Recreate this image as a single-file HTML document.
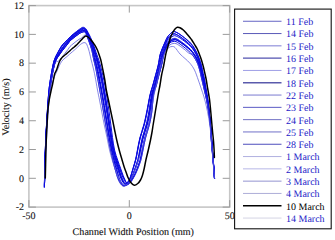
<!DOCTYPE html>
<html><head><meta charset="utf-8"><style>
html,body{margin:0;padding:0;background:#fff;width:335px;height:240px;overflow:hidden}
svg{display:block}
text{font-family:"Liberation Serif",serif;font-size:10px;text-rendering:geometricPrecision}
</style></head><body>
<svg width="335" height="240" viewBox="0 0 335 240">
<rect width="335" height="240" fill="#fff"/>
<rect x="28.9" y="5.6" width="200.80" height="201.50" fill="none" stroke="#c6c6c6" stroke-width="1.6"/>
<g stroke="#9a9a9a" stroke-width="1" fill="none">
<line x1="28.9" y1="207.10" x2="35.9" y2="207.10"/><line x1="222.7" y1="207.10" x2="229.7" y2="207.10"/><line x1="28.9" y1="178.31" x2="35.9" y2="178.31"/><line x1="222.7" y1="178.31" x2="229.7" y2="178.31"/><line x1="28.9" y1="149.53" x2="35.9" y2="149.53"/><line x1="222.7" y1="149.53" x2="229.7" y2="149.53"/><line x1="28.9" y1="120.74" x2="35.9" y2="120.74"/><line x1="222.7" y1="120.74" x2="229.7" y2="120.74"/><line x1="28.9" y1="91.96" x2="35.9" y2="91.96"/><line x1="222.7" y1="91.96" x2="229.7" y2="91.96"/><line x1="28.9" y1="63.17" x2="35.9" y2="63.17"/><line x1="222.7" y1="63.17" x2="229.7" y2="63.17"/><line x1="28.9" y1="34.39" x2="35.9" y2="34.39"/><line x1="222.7" y1="34.39" x2="229.7" y2="34.39"/><line x1="28.9" y1="5.60" x2="35.9" y2="5.60"/><line x1="222.7" y1="5.60" x2="229.7" y2="5.60"/><line x1="28.90" y1="207.1" x2="28.90" y2="200.1"/><line x1="28.90" y1="5.6" x2="28.90" y2="12.6"/><line x1="129.30" y1="207.1" x2="129.30" y2="200.1"/><line x1="129.30" y1="5.6" x2="129.30" y2="12.6"/><line x1="229.70" y1="207.1" x2="229.70" y2="200.1"/><line x1="229.70" y1="5.6" x2="229.70" y2="12.6"/>
</g>
<g fill="#111" stroke="#111" stroke-width="0.1"><text x="24.0" y="210.30" text-anchor="end">-2</text><text x="24.0" y="181.51" text-anchor="end">0</text><text x="24.0" y="152.73" text-anchor="end">2</text><text x="24.0" y="123.94" text-anchor="end">4</text><text x="24.0" y="95.16" text-anchor="end">6</text><text x="24.0" y="66.37" text-anchor="end">8</text><text x="24.0" y="37.59" text-anchor="end">10</text><text x="24.0" y="8.80" text-anchor="end">12</text><text x="28.90" y="218.6" text-anchor="middle">-50</text><text x="129.30" y="218.6" text-anchor="middle">0</text><text x="229.70" y="218.6" text-anchor="middle">50</text></g>
<text x="133.3" y="235" text-anchor="middle" fill="#111" stroke="#111" stroke-width="0.1" style="font-size:10.1px">Channel Width Position (mm)</text>
<text transform="translate(9,107) rotate(-90)" text-anchor="middle" fill="#111" stroke="#111" stroke-width="0.1">Velocity (m/s)</text>
<g stroke-linejoin="round" stroke-linecap="round">
<path d="M44.33,186.91 C44.38,184.84 44.51,179.32 44.63,174.50 C44.75,169.69 44.88,162.92 45.03,158.00 C45.18,153.08 45.32,149.67 45.52,145.00 C45.72,140.33 45.95,135.00 46.22,130.00 C46.49,125.00 46.80,120.00 47.12,115.00 C47.44,110.00 47.76,104.67 48.12,100.00 C48.49,95.33 48.87,90.83 49.32,87.00 C49.77,83.17 50.29,80.17 50.80,77.00 C51.32,73.83 51.87,70.67 52.40,68.00 C52.93,65.33 53.40,63.00 54.00,61.00 C54.60,59.00 55.23,57.67 56.00,56.00 C56.77,54.33 57.68,52.67 58.60,51.00 C59.52,49.33 60.52,47.42 61.50,46.00 C62.48,44.58 63.50,43.58 64.50,42.50 C65.50,41.42 66.50,40.50 67.50,39.50 C68.50,38.50 69.50,37.45 70.50,36.50 C71.50,35.55 72.50,34.63 73.50,33.80 C74.50,32.97 75.50,32.27 76.50,31.50 C77.50,30.73 78.45,29.90 79.50,29.20 C80.55,28.50 81.78,27.42 82.80,27.30 C83.82,27.18 84.72,27.63 85.60,28.50 C86.48,29.37 87.27,31.00 88.10,32.50 C88.93,34.00 89.77,35.67 90.60,37.50 C91.43,39.33 92.32,41.42 93.10,43.50 C93.88,45.58 94.65,48.08 95.30,50.00 C95.95,51.92 96.42,53.33 97.00,55.00 C97.58,56.67 98.17,58.00 98.80,60.00 C99.43,62.00 100.10,64.33 100.80,67.00 C101.50,69.67 102.27,72.67 103.00,76.00 C103.73,79.33 104.50,83.17 105.20,87.00 C105.90,90.83 106.54,94.83 107.20,99.00 C107.86,103.17 108.54,107.67 109.15,112.00 C109.76,116.33 110.31,120.75 110.87,125.00 C111.43,129.25 111.89,133.33 112.51,137.50 C113.13,141.67 113.71,146.24 114.56,150.00 C115.42,153.76 116.66,157.04 117.65,160.07 C118.65,163.10 119.63,165.62 120.53,168.16 C121.44,170.71 122.30,173.36 123.06,175.32 C123.82,177.29 124.52,178.77 125.09,179.96 C125.66,181.15 125.90,182.24 126.47,182.46 C127.04,182.68 127.84,182.25 128.53,181.29 C129.21,180.32 129.82,178.84 130.59,176.68 C131.36,174.51 132.27,171.22 133.15,168.30 C134.03,165.38 135.11,162.23 135.87,159.18 C136.62,156.13 136.98,153.53 137.70,150.00 C138.41,146.47 139.10,142.17 140.16,138.00 C141.23,133.83 142.96,129.33 144.10,125.00 C145.24,120.67 145.98,117.00 147.00,112.00 C148.02,107.00 149.19,99.50 150.20,95.00 C151.21,90.50 152.23,88.00 153.06,85.00 C153.90,82.00 154.32,80.33 155.20,77.00 C156.08,73.67 157.53,68.67 158.35,65.00 C159.17,61.33 159.44,57.75 160.10,55.00 C160.77,52.25 161.51,50.67 162.34,48.51 C163.17,46.34 164.24,43.92 165.10,42.00 C165.96,40.08 166.60,38.42 167.50,37.00 C168.40,35.58 169.50,34.42 170.50,33.50 C171.50,32.58 172.42,31.65 173.50,31.50 C174.58,31.35 175.92,32.12 177.00,32.60 C178.08,33.08 178.75,33.55 180.00,34.40 C181.25,35.25 183.04,36.57 184.50,37.70 C185.96,38.83 187.42,39.93 188.75,41.20 C190.08,42.47 191.29,43.67 192.50,45.30 C193.71,46.93 194.92,48.92 196.00,51.00 C197.08,53.08 198.08,55.38 199.00,57.80 C199.92,60.22 200.80,62.88 201.50,65.50 C202.20,68.12 202.67,71.08 203.20,73.50 C203.73,75.92 204.18,77.25 204.70,80.00 C205.22,82.75 205.75,86.67 206.30,90.00 C206.85,93.33 207.48,96.33 208.00,100.00 C208.52,103.67 208.97,107.83 209.40,112.00 C209.83,116.17 210.20,120.33 210.60,125.00 C211.00,129.67 211.42,135.00 211.80,140.00 C212.18,145.00 212.55,150.33 212.90,155.00 C213.25,159.67 213.62,164.08 213.90,168.00 C214.18,171.92 214.48,176.75 214.60,178.50" stroke="#0a0ae0" stroke-width="1.0" fill="none"/><path d="M44.30,187.42 C44.35,185.35 44.49,179.88 44.60,174.97 C44.72,170.07 44.85,163.00 45.00,158.00 C45.15,153.00 45.30,149.67 45.50,145.00 C45.70,140.33 45.93,135.00 46.20,130.00 C46.47,125.00 46.78,120.00 47.10,115.00 C47.42,110.00 47.73,104.67 48.10,100.00 C48.47,95.33 48.85,90.83 49.30,87.00 C49.75,83.17 50.28,80.17 50.80,77.00 C51.32,73.83 51.87,70.67 52.41,68.00 C52.95,65.33 53.42,63.00 54.03,61.00 C54.64,59.00 55.28,57.67 56.06,56.01 C56.85,54.35 57.78,52.68 58.72,51.03 C59.65,49.37 60.67,47.49 61.67,46.08 C62.67,44.68 63.70,43.68 64.71,42.61 C65.71,41.53 66.69,40.60 67.69,39.62 C68.70,38.63 69.72,37.60 70.73,36.67 C71.74,35.74 72.76,34.85 73.77,34.04 C74.78,33.22 75.80,32.52 76.81,31.78 C77.81,31.05 78.77,30.26 79.82,29.63 C80.86,28.99 82.07,28.02 83.06,27.98 C84.05,27.95 84.92,28.51 85.75,29.41 C86.57,30.32 87.25,31.92 88.01,33.40 C88.77,34.87 89.54,36.51 90.29,38.27 C91.05,40.02 91.84,41.95 92.55,43.90 C93.27,45.86 93.97,48.15 94.56,50.00 C95.15,51.85 95.56,53.33 96.08,55.00 C96.60,56.67 97.09,58.00 97.68,60.00 C98.26,62.00 98.92,64.33 99.59,67.00 C100.25,69.67 100.96,72.67 101.66,76.00 C102.37,79.33 103.12,83.17 103.81,87.00 C104.51,90.83 105.16,94.83 105.85,99.00 C106.53,103.17 107.25,107.67 107.91,112.00 C108.58,116.33 109.20,120.75 109.83,125.00 C110.46,129.25 111.02,133.33 111.70,137.50 C112.38,141.67 113.03,146.22 113.92,150.00 C114.81,153.78 116.03,157.13 117.03,160.19 C118.04,163.25 119.03,165.80 119.96,168.36 C120.90,170.93 121.81,173.62 122.62,175.59 C123.43,177.56 124.20,179.03 124.83,180.20 C125.45,181.36 125.76,182.40 126.38,182.59 C127.00,182.78 127.84,182.30 128.54,181.31 C129.24,180.33 129.81,178.84 130.56,176.67 C131.31,174.49 132.19,171.16 133.04,168.24 C133.88,165.31 134.92,162.16 135.65,159.12 C136.37,156.08 136.70,153.52 137.39,150.00 C138.09,146.48 138.76,142.17 139.81,138.00 C140.87,133.83 142.59,129.33 143.73,125.00 C144.87,120.67 145.61,117.00 146.65,112.00 C147.69,107.00 148.93,99.50 149.96,95.00 C150.99,90.50 151.99,88.00 152.83,85.00 C153.67,82.00 154.11,80.33 155.01,77.00 C155.90,73.67 157.37,68.67 158.20,65.00 C159.03,61.33 159.32,57.75 160.00,55.00 C160.68,52.25 161.45,50.67 162.30,48.50 C163.15,46.33 164.23,43.92 165.10,42.00 C165.97,40.08 166.60,38.42 167.50,37.00 C168.40,35.58 169.50,34.41 170.50,33.50 C171.50,32.59 172.42,31.67 173.51,31.54 C174.60,31.41 175.93,32.21 177.02,32.73 C178.11,33.24 178.79,33.75 180.04,34.64 C181.30,35.52 183.08,36.87 184.53,38.04 C185.98,39.21 187.42,40.34 188.75,41.64 C190.08,42.95 191.30,44.20 192.50,45.86 C193.70,47.52 194.91,49.55 195.96,51.61 C197.02,53.67 197.97,55.90 198.84,58.23 C199.72,60.56 200.54,63.10 201.21,65.60 C201.87,68.11 202.31,70.91 202.83,73.27 C203.34,75.62 203.75,76.95 204.28,79.74 C204.81,82.53 205.42,86.62 206.01,90.00 C206.59,93.38 207.23,96.33 207.77,100.00 C208.32,103.67 208.80,107.83 209.26,112.00 C209.72,116.17 210.14,120.33 210.54,125.00 C210.95,129.67 211.32,135.00 211.70,140.00 C212.08,145.00 212.48,150.33 212.84,155.00 C213.20,159.67 213.57,164.10 213.86,168.00 C214.14,171.90 214.44,176.66 214.56,178.39" stroke="#0a0ae0" stroke-width="1.0" fill="none"/><path d="M44.36,186.42 C44.41,184.37 44.54,178.85 44.65,174.11 C44.77,169.37 44.90,162.85 45.05,158.00 C45.20,153.15 45.35,149.67 45.54,145.00 C45.74,140.33 45.97,135.00 46.24,130.00 C46.51,125.00 46.83,120.00 47.15,115.00 C47.47,110.00 47.80,104.67 48.18,100.00 C48.55,95.33 48.95,90.83 49.41,87.00 C49.86,83.17 50.40,80.17 50.92,77.00 C51.45,73.83 52.00,70.67 52.54,68.00 C53.09,65.33 53.57,62.99 54.19,61.00 C54.81,59.01 55.48,57.71 56.28,56.06 C57.07,54.40 58.03,52.73 58.98,51.10 C59.93,49.46 60.96,47.61 61.95,46.22 C62.95,44.83 63.98,43.82 64.97,42.74 C65.96,41.66 66.90,40.72 67.89,39.74 C68.89,38.75 69.92,37.75 70.94,36.83 C71.95,35.91 72.96,35.03 73.98,34.22 C74.99,33.41 76.02,32.70 77.03,31.98 C78.03,31.27 78.99,30.50 80.03,29.91 C81.06,29.32 82.25,28.41 83.22,28.41 C84.19,28.42 85.05,29.04 85.84,29.96 C86.63,30.88 87.24,32.46 87.96,33.91 C88.67,35.37 89.41,36.99 90.12,38.69 C90.84,40.39 91.58,42.24 92.26,44.12 C92.93,46.01 93.61,48.19 94.17,50.00 C94.73,51.81 95.12,53.33 95.61,55.00 C96.10,56.67 96.55,58.00 97.11,60.00 C97.67,62.00 98.34,64.33 98.99,67.00 C99.64,69.67 100.32,72.67 101.02,76.00 C101.71,79.33 102.46,83.17 103.16,87.00 C103.86,90.83 104.53,94.83 105.23,99.00 C105.92,103.17 106.66,107.67 107.34,112.00 C108.02,116.33 108.67,120.75 109.33,125.00 C109.98,129.25 110.57,133.33 111.28,137.50 C111.98,141.67 112.67,146.20 113.56,150.00 C114.46,153.80 115.64,157.19 116.64,160.27 C117.64,163.36 118.62,165.92 119.55,168.51 C120.49,171.10 121.41,173.83 122.23,175.82 C123.06,177.82 123.86,179.31 124.52,180.47 C125.18,181.64 125.53,182.67 126.21,182.83 C126.89,182.99 127.84,182.46 128.60,181.45 C129.35,180.44 129.96,178.92 130.74,176.74 C131.52,174.56 132.41,171.29 133.28,168.37 C134.15,165.44 135.21,162.26 135.95,159.20 C136.69,156.14 137.03,153.53 137.73,150.00 C138.44,146.47 139.11,142.17 140.18,138.00 C141.24,133.83 142.97,129.33 144.12,125.00 C145.26,120.67 146.02,117.00 147.05,112.00 C148.07,107.00 149.24,99.50 150.27,95.00 C151.29,90.50 152.33,88.00 153.19,85.00 C154.04,82.00 154.48,80.33 155.38,77.00 C156.29,73.67 157.76,68.67 158.61,65.00 C159.46,61.33 159.79,57.74 160.49,55.00 C161.18,52.26 161.96,50.65 162.79,48.57 C163.62,46.49 164.62,44.28 165.47,42.51 C166.33,40.75 167.01,39.25 167.93,38.00 C168.85,36.75 169.96,35.75 170.97,35.02 C171.99,34.28 172.96,33.61 174.02,33.60 C175.08,33.59 176.26,34.37 177.34,34.96 C178.42,35.54 179.25,36.20 180.49,37.12 C181.73,38.04 183.39,39.34 184.76,40.49 C186.14,41.64 187.46,42.72 188.75,44.00 C190.04,45.28 191.32,46.57 192.50,48.17 C193.68,49.78 194.86,51.76 195.85,53.63 C196.83,55.51 197.64,57.38 198.42,59.41 C199.20,61.44 199.92,63.59 200.54,65.83 C201.16,68.07 201.61,70.58 202.12,72.83 C202.63,75.07 203.03,76.45 203.61,79.32 C204.19,82.18 204.96,86.55 205.62,90.00 C206.27,93.45 206.94,96.33 207.52,100.00 C208.11,103.67 208.64,107.83 209.13,112.00 C209.63,116.17 210.08,120.33 210.50,125.00 C210.92,129.67 211.26,135.00 211.64,140.00 C212.03,145.00 212.44,150.33 212.81,155.00 C213.18,159.67 213.55,164.11 213.84,168.00 C214.13,171.89 214.43,176.64 214.55,178.36" stroke="#0a0ae0" stroke-width="1.0" fill="none"/><path d="M44.41,185.43 C44.46,183.36 44.60,177.60 44.72,173.03 C44.84,168.46 44.97,162.67 45.12,158.00 C45.27,153.33 45.43,149.67 45.63,145.00 C45.83,140.33 46.06,135.00 46.33,130.00 C46.61,125.00 46.93,120.00 47.28,115.00 C47.63,110.00 48.00,104.67 48.42,100.00 C48.83,95.33 49.27,90.83 49.75,87.00 C50.24,83.17 50.80,80.17 51.34,77.00 C51.89,73.83 52.45,70.67 53.03,68.00 C53.60,65.33 54.12,62.96 54.79,61.00 C55.46,59.04 56.21,57.83 57.07,56.21 C57.92,54.60 58.95,52.92 59.92,51.33 C60.89,49.74 61.92,48.04 62.89,46.67 C63.86,45.31 64.83,44.25 65.75,43.14 C66.67,42.04 67.46,41.04 68.40,40.04 C69.33,39.04 70.36,38.07 71.35,37.14 C72.33,36.22 73.31,35.33 74.30,34.50 C75.28,33.67 76.27,32.93 77.25,32.19 C78.22,31.45 79.14,30.68 80.14,30.07 C81.14,29.45 82.30,28.51 83.25,28.48 C84.19,28.44 85.03,28.99 85.82,29.86 C86.61,30.72 87.25,32.25 87.98,33.67 C88.72,35.09 89.49,36.68 90.24,38.40 C91.00,40.11 91.80,42.00 92.51,43.93 C93.23,45.87 93.95,48.16 94.55,50.00 C95.15,51.84 95.58,53.33 96.10,55.00 C96.63,56.67 97.13,58.00 97.71,60.00 C98.30,62.00 98.96,64.33 99.61,67.00 C100.27,69.67 100.96,72.67 101.64,76.00 C102.32,79.33 103.05,83.17 103.71,87.00 C104.38,90.83 105.00,94.83 105.65,99.00 C106.30,103.17 106.97,107.67 107.60,112.00 C108.23,116.33 108.81,120.75 109.41,125.00 C110.01,129.25 110.54,133.33 111.20,137.50 C111.85,141.67 112.50,146.19 113.34,150.00 C114.17,153.81 115.28,157.23 116.20,160.36 C117.11,163.49 117.99,166.09 118.83,168.76 C119.68,171.43 120.51,174.29 121.29,176.39 C122.07,178.49 122.82,180.13 123.53,181.36 C124.23,182.60 124.62,183.68 125.52,183.80 C126.41,183.92 127.86,183.20 128.88,182.10 C129.91,180.99 130.71,179.33 131.68,177.17 C132.64,175.01 133.67,172.05 134.68,169.13 C135.69,166.21 136.90,162.87 137.74,159.68 C138.58,156.49 138.97,153.61 139.71,150.00 C140.45,146.39 141.12,142.17 142.17,138.00 C143.23,133.83 144.94,129.33 146.03,125.00 C147.13,120.67 147.86,117.00 148.75,112.00 C149.64,107.00 150.46,99.50 151.38,95.00 C152.29,90.50 153.43,88.00 154.26,85.00 C155.08,82.00 155.45,80.33 156.31,77.00 C157.18,73.67 158.62,68.67 159.44,65.00 C160.27,61.33 160.61,57.72 161.27,55.00 C161.93,52.28 162.64,50.66 163.40,48.66 C164.16,46.65 165.01,44.65 165.81,42.97 C166.60,41.30 167.30,39.83 168.19,38.60 C169.08,37.37 170.16,36.34 171.15,35.57 C172.13,34.80 173.08,34.06 174.11,33.96 C175.14,33.87 176.29,34.52 177.35,35.01 C178.40,35.49 179.22,36.04 180.44,36.87 C181.67,37.70 183.33,38.91 184.72,39.99 C186.10,41.07 187.45,42.10 188.75,43.33 C190.05,44.57 191.31,45.79 192.50,47.38 C193.69,48.97 194.88,50.93 195.89,52.86 C196.91,54.78 197.77,56.78 198.59,58.93 C199.41,61.08 200.18,63.39 200.81,65.74 C201.45,68.08 201.89,70.71 202.40,73.00 C202.90,75.29 203.29,76.63 203.85,79.47 C204.40,82.30 205.11,86.58 205.73,90.00 C206.35,93.42 207.01,96.33 207.57,100.00 C208.14,103.67 208.65,107.83 209.14,112.00 C209.63,116.17 210.08,120.33 210.50,125.00 C210.91,129.67 211.24,135.00 211.62,140.00 C212.00,145.00 212.42,150.33 212.78,155.00 C213.15,159.67 213.53,164.12 213.82,168.00 C214.11,171.88 214.40,176.58 214.52,178.29" stroke="#0a0ae0" stroke-width="1.0" fill="none"/><path d="M44.44,184.90 C44.49,182.84 44.63,177.03 44.75,172.54 C44.87,168.06 45.00,162.59 45.15,158.00 C45.30,153.41 45.46,149.67 45.66,145.00 C45.86,140.33 46.08,135.00 46.36,130.00 C46.64,125.00 46.96,120.00 47.32,115.00 C47.67,110.00 48.07,104.67 48.49,100.00 C48.91,95.33 49.36,90.83 49.86,87.00 C50.36,83.17 50.92,80.17 51.48,77.00 C52.03,73.83 52.60,70.67 53.19,68.00 C53.78,65.33 54.31,62.95 55.01,61.00 C55.70,59.05 56.49,57.87 57.38,56.28 C58.27,54.68 59.34,53.00 60.33,51.43 C61.33,49.87 62.37,48.24 63.35,46.90 C64.33,45.56 65.30,44.48 66.20,43.37 C67.10,42.27 67.83,41.24 68.74,40.25 C69.66,39.25 70.71,38.32 71.70,37.41 C72.68,36.50 73.67,35.63 74.65,34.81 C75.63,34.00 76.63,33.23 77.60,32.51 C78.57,31.79 79.49,31.07 80.47,30.50 C81.45,29.94 82.57,29.09 83.48,29.11 C84.40,29.13 85.21,29.74 85.95,30.61 C86.68,31.49 87.23,32.96 87.92,34.34 C88.60,35.73 89.32,37.28 90.03,38.92 C90.74,40.56 91.49,42.34 92.18,44.19 C92.86,46.03 93.56,48.20 94.13,50.00 C94.71,51.80 95.12,53.33 95.62,55.00 C96.13,56.67 96.60,58.00 97.18,60.00 C97.75,62.00 98.42,64.33 99.08,67.00 C99.73,69.67 100.41,72.67 101.09,76.00 C101.78,79.33 102.51,83.17 103.19,87.00 C103.87,90.83 104.50,94.83 105.17,99.00 C105.83,103.17 106.52,107.67 107.17,112.00 C107.81,116.33 108.41,120.75 109.03,125.00 C109.65,129.25 110.21,133.33 110.88,137.50 C111.55,141.67 112.22,146.18 113.06,150.00 C113.89,153.82 114.98,157.28 115.88,160.42 C116.78,163.57 117.63,166.19 118.47,168.89 C119.31,171.59 120.12,174.49 120.91,176.62 C121.70,178.75 122.46,180.43 123.19,181.67 C123.92,182.92 124.33,184.00 125.30,184.10 C126.26,184.21 127.86,183.43 128.97,182.29 C130.08,181.16 130.93,179.45 131.95,177.30 C132.98,175.14 134.04,172.27 135.10,169.36 C136.16,166.45 137.42,163.06 138.30,159.83 C139.18,156.60 139.60,153.64 140.36,150.00 C141.13,146.36 141.81,142.17 142.88,138.00 C143.95,133.83 145.67,129.33 146.77,125.00 C147.87,120.67 148.62,117.00 149.48,112.00 C150.33,107.00 151.01,99.50 151.90,95.00 C152.79,90.50 153.99,88.00 154.82,85.00 C155.65,82.00 156.01,80.33 156.87,77.00 C157.74,73.67 159.18,68.67 160.02,65.00 C160.87,61.33 161.26,57.71 161.92,55.00 C162.58,52.29 163.29,50.65 164.01,48.74 C164.72,46.83 165.46,45.07 166.23,43.55 C166.99,42.02 167.73,40.71 168.62,39.61 C169.51,38.50 170.59,37.60 171.57,36.94 C172.56,36.28 173.52,35.69 174.53,35.65 C175.53,35.60 176.55,36.19 177.59,36.68 C178.63,37.17 179.54,37.76 180.75,38.57 C181.96,39.37 183.53,40.50 184.86,41.52 C186.19,42.54 187.48,43.50 188.75,44.68 C190.02,45.85 191.32,47.05 192.50,48.57 C193.68,50.09 194.85,52.00 195.84,53.80 C196.82,55.61 197.63,57.42 198.41,59.43 C199.20,61.43 199.94,63.59 200.56,65.82 C201.18,68.06 201.64,70.59 202.16,72.85 C202.67,75.10 203.06,76.48 203.64,79.34 C204.22,82.20 204.98,86.56 205.62,90.00 C206.27,93.44 206.93,96.33 207.51,100.00 C208.09,103.67 208.61,107.83 209.11,112.00 C209.60,116.17 210.07,120.33 210.49,125.00 C210.90,129.67 211.22,135.00 211.60,140.00 C211.98,145.00 212.41,150.33 212.78,155.00 C213.14,159.67 213.52,164.12 213.81,168.00 C214.10,171.88 214.39,176.56 214.51,178.27" stroke="#0a0ae0" stroke-width="1.0" fill="none"/><path d="M44.48,184.16 C44.53,182.12 44.67,176.26 44.79,171.90 C44.90,167.54 45.04,162.48 45.19,158.00 C45.34,153.52 45.49,149.67 45.69,145.00 C45.89,140.33 46.12,135.00 46.40,130.00 C46.67,125.00 47.00,120.00 47.36,115.00 C47.73,110.00 48.13,104.67 48.57,100.00 C49.00,95.33 49.47,90.83 49.97,87.00 C50.48,83.17 51.05,80.17 51.61,77.00 C52.17,73.83 52.75,70.67 53.35,68.00 C53.95,65.33 54.49,62.94 55.21,61.00 C55.94,59.06 56.76,57.91 57.68,56.34 C58.60,54.76 59.71,53.07 60.73,51.53 C61.75,50.00 62.82,48.44 63.80,47.12 C64.79,45.80 65.76,44.71 66.64,43.60 C67.52,42.49 68.19,41.44 69.10,40.46 C70.00,39.47 71.08,38.58 72.07,37.69 C73.06,36.81 74.05,35.95 75.03,35.15 C76.02,34.35 77.03,33.57 78.00,32.88 C78.97,32.19 79.88,31.52 80.85,31.01 C81.81,30.51 82.89,29.78 83.77,29.87 C84.64,29.95 85.42,30.66 86.10,31.55 C86.78,32.44 87.22,33.86 87.83,35.20 C88.44,36.54 89.11,38.04 89.76,39.60 C90.41,41.15 91.09,42.78 91.72,44.52 C92.36,46.25 93.02,48.25 93.57,50.00 C94.11,51.75 94.49,53.33 94.97,55.00 C95.45,56.67 95.88,58.00 96.45,60.00 C97.01,62.00 97.70,64.33 98.36,67.00 C99.01,69.67 99.68,72.67 100.38,76.00 C101.07,79.33 101.83,83.17 102.53,87.00 C103.23,90.83 103.91,94.83 104.60,99.00 C105.30,103.17 106.03,107.67 106.71,112.00 C107.39,116.33 108.04,120.75 108.69,125.00 C109.35,129.25 109.95,133.33 110.65,137.50 C111.35,141.67 112.06,146.18 112.91,150.00 C113.77,153.82 114.86,157.29 115.78,160.44 C116.70,163.59 117.57,166.21 118.43,168.90 C119.29,171.59 120.14,174.49 120.94,176.61 C121.74,178.72 122.52,180.37 123.26,181.61 C123.99,182.84 124.41,183.91 125.36,184.02 C126.31,184.12 127.86,183.36 128.94,182.23 C130.03,181.11 130.86,179.41 131.87,177.26 C132.88,175.10 133.94,172.21 135.00,169.30 C136.05,166.39 137.32,163.02 138.20,159.80 C139.09,156.59 139.52,153.63 140.31,150.00 C141.09,146.37 141.81,142.17 142.90,138.00 C143.99,133.83 145.75,129.33 146.88,125.00 C148.00,120.67 148.79,117.00 149.66,112.00 C150.53,107.00 151.19,99.50 152.10,95.00 C153.01,90.50 154.25,88.00 155.11,85.00 C155.96,82.00 156.33,80.33 157.23,77.00 C158.12,73.67 159.59,68.67 160.46,65.00 C161.34,61.33 161.80,57.69 162.49,55.00 C163.19,52.31 163.92,50.63 164.62,48.83 C165.33,47.03 165.95,45.53 166.71,44.21 C167.47,42.89 168.27,41.79 169.18,40.91 C170.10,40.02 171.19,39.33 172.19,38.90 C173.19,38.47 174.22,38.20 175.19,38.32 C176.16,38.44 176.98,39.02 178.01,39.60 C179.03,40.19 180.15,40.97 181.34,41.83 C182.53,42.68 183.93,43.74 185.16,44.73 C186.40,45.72 187.53,46.62 188.75,47.75 C189.97,48.89 191.34,50.13 192.50,51.57 C193.66,53.01 194.79,54.84 195.68,56.40 C196.58,57.96 197.20,59.30 197.88,60.91 C198.55,62.53 199.16,64.21 199.73,66.11 C200.30,68.01 200.78,70.19 201.29,72.31 C201.81,74.43 202.20,75.89 202.84,78.84 C203.49,81.79 204.44,86.47 205.17,90.00 C205.90,93.53 206.60,96.33 207.23,100.00 C207.86,103.67 208.44,107.83 208.97,112.00 C209.51,116.17 210.02,120.33 210.44,125.00 C210.87,129.67 211.16,135.00 211.55,140.00 C211.93,145.00 212.38,150.33 212.75,155.00 C213.13,159.67 213.51,164.12 213.80,168.00 C214.10,171.88 214.39,176.56 214.51,178.27" stroke="#0a0ae0" stroke-width="1.0" fill="none"/><path d="M44.52,183.53 C44.57,181.53 44.70,175.76 44.81,171.50 C44.92,167.25 45.05,162.42 45.20,158.00 C45.35,153.58 45.50,149.67 45.70,145.00 C45.89,140.33 46.11,135.00 46.39,130.00 C46.66,125.00 46.99,120.00 47.34,115.00 C47.70,110.00 48.09,104.67 48.51,100.00 C48.93,95.33 49.38,90.83 49.87,87.00 C50.36,83.17 50.92,80.17 51.47,77.00 C52.02,73.83 52.58,70.67 53.17,68.00 C53.76,65.33 54.28,62.95 54.98,61.00 C55.68,59.05 56.47,57.87 57.37,56.27 C58.27,54.68 59.36,53.00 60.38,51.44 C61.40,49.89 62.48,48.29 63.48,46.96 C64.49,45.64 65.50,44.58 66.42,43.49 C67.34,42.40 68.06,41.37 69.00,40.40 C69.94,39.43 71.04,38.55 72.06,37.68 C73.08,36.82 74.10,36.00 75.12,35.22 C76.14,34.45 77.18,33.69 78.18,33.04 C79.17,32.40 80.12,31.77 81.10,31.35 C82.07,30.93 83.16,30.33 84.02,30.53 C84.88,30.73 85.65,31.60 86.26,32.56 C86.88,33.52 87.20,34.94 87.72,36.28 C88.24,37.62 88.82,39.12 89.37,40.58 C89.91,42.05 90.46,43.49 90.99,45.06 C91.52,46.63 92.10,48.34 92.55,50.00 C93.00,51.66 93.31,53.33 93.70,55.00 C94.09,56.67 94.39,58.00 94.89,60.00 C95.39,62.00 96.09,64.33 96.70,67.00 C97.32,69.67 97.92,72.67 98.60,76.00 C99.27,79.33 100.02,83.17 100.75,87.00 C101.47,90.83 102.20,94.83 102.94,99.00 C103.69,103.17 104.47,107.67 105.22,112.00 C105.96,116.33 106.68,120.75 107.42,125.00 C108.16,129.25 108.86,133.33 109.64,137.50 C110.42,141.67 111.21,146.15 112.10,150.00 C112.99,153.85 114.05,157.41 114.97,160.61 C115.90,163.80 116.77,166.44 117.66,169.17 C118.55,171.90 119.44,174.85 120.30,176.99 C121.16,179.13 122.00,180.79 122.81,182.01 C123.62,183.23 124.12,184.25 125.15,184.31 C126.18,184.37 127.86,183.53 129.00,182.37 C130.14,181.20 130.98,179.49 132.01,177.32 C133.04,175.16 134.09,172.30 135.16,169.39 C136.22,166.48 137.48,163.08 138.37,159.85 C139.26,156.62 139.71,153.64 140.49,150.00 C141.28,146.36 142.00,142.17 143.11,138.00 C144.21,133.83 145.98,129.33 147.11,125.00 C148.25,120.67 149.06,117.00 149.92,112.00 C150.79,107.00 151.41,99.50 152.31,95.00 C153.22,90.50 154.50,88.00 155.37,85.00 C156.24,82.00 156.61,80.33 157.51,77.00 C158.41,73.67 159.89,68.67 160.78,65.00 C161.68,61.33 162.17,57.69 162.87,55.00 C163.58,52.31 164.31,50.62 165.00,48.89 C165.68,47.15 166.23,45.80 166.97,44.58 C167.72,43.35 168.55,42.36 169.46,41.56 C170.38,40.76 171.47,40.15 172.47,39.79 C173.46,39.43 174.51,39.26 175.45,39.40 C176.40,39.54 177.15,40.06 178.16,40.64 C179.17,41.21 180.34,42.01 181.52,42.83 C182.70,43.65 184.04,44.63 185.24,45.56 C186.45,46.50 187.54,47.33 188.75,48.42 C189.96,49.50 191.35,50.69 192.50,52.08 C193.65,53.47 194.77,55.24 195.66,56.74 C196.55,58.23 197.16,59.49 197.83,61.05 C198.50,62.62 199.11,64.25 199.68,66.13 C200.25,68.00 200.74,70.17 201.26,72.29 C201.79,74.41 202.18,75.88 202.83,78.83 C203.48,81.78 204.43,86.47 205.16,90.00 C205.89,93.53 206.59,96.33 207.22,100.00 C207.85,103.67 208.42,107.83 208.96,112.00 C209.50,116.17 210.01,120.33 210.44,125.00 C210.86,129.67 211.14,135.00 211.53,140.00 C211.91,145.00 212.36,150.33 212.73,155.00 C213.11,159.67 213.49,164.13 213.79,168.00 C214.08,171.87 214.37,176.51 214.48,178.21" stroke="#0a0ae0" stroke-width="1.0" fill="none"/><path d="M44.56,182.76 C44.61,180.74 44.74,174.76 44.86,170.63 C44.98,166.51 45.11,162.27 45.26,158.00 C45.42,153.73 45.57,149.67 45.77,145.00 C45.97,140.33 46.19,135.00 46.47,130.00 C46.75,125.00 47.08,120.00 47.46,115.00 C47.84,110.00 48.27,104.67 48.73,100.00 C49.18,95.33 49.67,90.83 50.20,87.00 C50.72,83.17 51.30,80.17 51.87,77.00 C52.44,73.83 53.02,70.67 53.64,68.00 C54.25,65.33 54.82,62.93 55.57,61.00 C56.33,59.07 57.20,57.99 58.16,56.43 C59.12,54.88 60.28,53.18 61.32,51.68 C62.37,50.18 63.45,48.72 64.43,47.42 C65.41,46.13 66.36,45.02 67.21,43.90 C68.06,42.78 68.64,41.69 69.51,40.71 C70.39,39.72 71.48,38.87 72.47,38.00 C73.46,37.13 74.44,36.29 75.43,35.50 C76.41,34.70 77.42,33.90 78.39,33.23 C79.35,32.57 80.26,31.93 81.20,31.49 C82.14,31.04 83.19,30.40 84.03,30.55 C84.87,30.70 85.62,31.49 86.24,32.39 C86.86,33.30 87.21,34.67 87.75,35.97 C88.30,37.28 88.92,38.75 89.51,40.23 C90.10,41.71 90.70,43.22 91.28,44.85 C91.86,46.48 92.48,48.31 92.97,50.00 C93.46,51.69 93.80,53.33 94.22,55.00 C94.65,56.67 94.99,58.00 95.51,60.00 C96.02,62.00 96.70,64.33 97.31,67.00 C97.92,69.67 98.52,72.67 99.17,76.00 C99.82,79.33 100.54,83.17 101.21,87.00 C101.89,90.83 102.56,94.83 103.24,99.00 C103.93,103.17 104.64,107.67 105.32,112.00 C106.01,116.33 106.66,120.75 107.34,125.00 C108.02,129.25 108.66,133.33 109.39,137.50 C110.12,141.67 110.89,146.13 111.71,150.00 C112.54,153.87 113.50,157.48 114.33,160.73 C115.17,163.98 115.93,166.67 116.73,169.50 C117.53,172.32 118.33,175.43 119.16,177.68 C119.98,179.94 120.81,181.74 121.68,183.02 C122.56,184.30 123.13,185.36 124.40,185.36 C125.67,185.36 127.87,184.31 129.30,183.04 C130.72,181.77 131.75,179.90 132.95,177.75 C134.15,175.59 135.32,173.03 136.50,170.12 C137.67,167.21 139.06,163.64 140.02,160.29 C140.97,156.94 141.43,153.72 142.23,150.00 C143.03,146.28 143.72,142.17 144.79,138.00 C145.86,133.83 147.58,129.33 148.66,125.00 C149.73,120.67 150.49,117.00 151.24,112.00 C151.98,107.00 152.32,99.50 153.13,95.00 C153.94,90.50 155.29,88.00 156.12,85.00 C156.96,82.00 157.27,80.33 158.14,77.00 C159.00,73.67 160.45,68.67 161.32,65.00 C162.19,61.33 162.69,57.68 163.36,55.00 C164.04,52.32 164.73,50.63 165.37,48.94 C166.00,47.25 166.47,46.02 167.18,44.86 C167.89,43.69 168.73,42.72 169.63,41.95 C170.54,41.17 171.61,40.57 172.60,40.21 C173.59,39.86 174.62,39.69 175.56,39.82 C176.49,39.95 177.21,40.44 178.21,41.00 C179.21,41.56 180.40,42.36 181.58,43.18 C182.76,43.99 184.08,44.97 185.27,45.90 C186.47,46.83 187.55,47.67 188.75,48.77 C189.95,49.86 191.35,51.08 192.50,52.48 C193.65,53.88 194.77,55.68 195.64,57.16 C196.51,58.64 197.08,59.84 197.72,61.35 C198.36,62.85 198.93,64.40 199.48,66.20 C200.03,67.99 200.50,70.06 201.01,72.13 C201.52,74.21 201.88,75.67 202.54,78.65 C203.20,81.63 204.21,86.44 204.97,90.00 C205.72,93.56 206.42,96.33 207.07,100.00 C207.72,103.67 208.32,107.83 208.87,112.00 C209.43,116.17 209.97,120.33 210.40,125.00 C210.84,129.67 211.09,135.00 211.47,140.00 C211.85,145.00 212.32,150.33 212.70,155.00 C213.08,159.67 213.47,164.14 213.77,168.00 C214.06,171.86 214.35,176.47 214.46,178.16" stroke="#0a0ae0" stroke-width="1.0" fill="none"/><path d="M44.54,183.08 C44.59,181.08 44.72,175.25 44.84,171.06 C44.95,166.88 45.08,162.34 45.23,158.00 C45.38,153.66 45.53,149.67 45.73,145.00 C45.93,140.33 46.15,135.00 46.43,130.00 C46.71,125.00 47.04,120.00 47.41,115.00 C47.78,110.00 48.20,104.67 48.65,100.00 C49.10,95.33 49.58,90.83 50.10,87.00 C50.62,83.17 51.20,80.17 51.78,77.00 C52.36,73.83 52.95,70.67 53.58,68.00 C54.21,65.33 54.78,62.93 55.56,61.00 C56.33,59.07 57.23,57.99 58.23,56.45 C59.22,54.90 60.44,53.21 61.53,51.73 C62.63,50.26 63.77,48.87 64.79,47.60 C65.82,46.33 66.82,45.24 67.68,44.14 C68.54,43.03 69.07,41.93 69.95,40.97 C70.84,40.01 71.98,39.22 72.99,38.39 C74.00,37.56 75.00,36.77 76.00,36.00 C77.00,35.23 78.03,34.42 79.00,33.80 C79.97,33.18 80.88,32.63 81.80,32.30 C82.72,31.97 83.72,31.53 84.50,31.80 C85.28,32.07 85.97,33.01 86.49,33.93 C87.01,34.86 87.18,36.13 87.61,37.36 C88.05,38.59 88.58,39.97 89.08,41.30 C89.58,42.64 90.08,43.91 90.60,45.36 C91.11,46.80 91.69,48.39 92.14,50.00 C92.59,51.61 92.92,53.33 93.32,55.00 C93.72,56.67 94.03,58.00 94.54,60.00 C95.06,62.00 95.78,64.33 96.41,67.00 C97.04,69.67 97.64,72.67 98.32,76.00 C98.99,79.33 99.74,83.17 100.46,87.00 C101.17,90.83 101.88,94.83 102.61,99.00 C103.33,103.17 104.09,107.67 104.81,112.00 C105.53,116.33 106.21,120.75 106.92,125.00 C107.64,129.25 108.32,133.33 109.07,137.50 C109.82,141.67 110.61,146.12 111.44,150.00 C112.27,153.88 113.20,157.52 114.02,160.80 C114.84,164.07 115.57,166.77 116.36,169.63 C117.15,172.48 117.93,175.63 118.76,177.92 C119.58,180.21 120.41,182.07 121.30,183.37 C122.20,184.67 122.80,185.73 124.15,185.72 C125.50,185.70 127.88,184.58 129.40,183.28 C130.92,181.97 132.02,180.05 133.29,177.90 C134.55,175.76 135.77,173.30 137.00,170.39 C138.24,167.49 139.68,163.86 140.67,160.47 C141.66,157.07 142.15,153.74 142.95,150.00 C143.76,146.26 144.44,142.17 145.50,138.00 C146.56,133.83 148.25,129.33 149.30,125.00 C150.35,120.67 151.10,117.00 151.80,112.00 C152.50,107.00 152.72,99.50 153.50,95.00 C154.28,90.50 155.65,88.00 156.47,85.00 C157.29,82.00 157.57,80.33 158.42,77.00 C159.26,73.67 160.69,68.67 161.55,65.00 C162.40,61.33 162.89,57.67 163.55,55.00 C164.20,52.33 164.87,50.64 165.48,48.95 C166.09,47.27 166.53,46.08 167.22,44.92 C167.91,43.75 168.75,42.77 169.65,41.98 C170.54,41.19 171.60,40.55 172.59,40.17 C173.57,39.79 174.60,39.59 175.53,39.71 C176.47,39.82 177.19,40.30 178.19,40.86 C179.20,41.42 180.38,42.23 181.56,43.07 C182.74,43.91 184.07,44.92 185.27,45.89 C186.47,46.86 187.55,47.74 188.75,48.89 C189.95,50.04 191.36,51.32 192.50,52.78 C193.64,54.23 194.76,56.12 195.61,57.62 C196.46,59.11 196.98,60.31 197.58,61.76 C198.17,63.20 198.66,64.63 199.16,66.31 C199.65,67.99 200.08,69.84 200.55,71.84 C201.02,73.84 201.30,75.27 201.97,78.29 C202.64,81.32 203.75,86.38 204.54,90.00 C205.34,93.62 206.05,96.33 206.73,100.00 C207.42,103.67 208.06,107.83 208.66,112.00 C209.25,116.17 209.87,120.33 210.31,125.00 C210.76,129.67 210.93,135.00 211.31,140.00 C211.70,145.00 212.21,150.33 212.60,155.00 C213.00,159.67 213.40,164.17 213.70,168.00 C214.00,171.83 214.28,176.33 214.40,178.00" stroke="#0a0ae0" stroke-width="1.0" fill="none"/><path d="M44.58,182.31 C44.63,180.32 44.76,174.41 44.88,170.36 C44.99,166.31 45.13,162.23 45.27,158.00 C45.42,153.77 45.57,149.67 45.77,145.00 C45.97,140.33 46.19,135.00 46.47,130.00 C46.75,125.00 47.08,120.00 47.45,115.00 C47.83,110.00 48.26,104.67 48.72,100.00 C49.17,95.33 49.66,90.83 50.18,87.00 C50.70,83.17 51.28,80.17 51.86,77.00 C52.44,73.83 53.02,70.67 53.64,68.00 C54.27,65.33 54.84,62.92 55.61,61.00 C56.38,59.08 57.28,58.00 58.26,56.45 C59.25,54.91 60.46,53.21 61.54,51.74 C62.62,50.26 63.75,48.86 64.77,47.59 C65.78,46.32 66.78,45.22 67.64,44.12 C68.50,43.01 69.03,41.91 69.92,40.95 C70.81,40.00 71.96,39.20 72.97,38.38 C73.98,37.55 74.99,36.76 76.00,36.00 C77.01,35.24 78.03,34.42 79.00,33.80 C79.97,33.18 80.88,32.63 81.80,32.30 C82.72,31.97 83.72,31.52 84.50,31.80 C85.28,32.08 85.98,33.05 86.50,34.00 C87.02,34.95 87.18,36.25 87.60,37.50 C88.02,38.75 88.53,40.17 89.00,41.50 C89.47,42.83 89.93,44.08 90.40,45.50 C90.87,46.92 91.40,48.42 91.80,50.00 C92.20,51.58 92.47,53.33 92.80,55.00 C93.13,56.67 93.35,58.00 93.80,60.00 C94.25,62.00 94.93,64.33 95.50,67.00 C96.07,69.67 96.58,72.67 97.20,76.00 C97.82,79.33 98.52,83.17 99.20,87.00 C99.88,90.83 100.58,94.83 101.30,99.00 C102.02,103.17 102.77,107.67 103.50,112.00 C104.23,116.33 104.95,120.75 105.70,125.00 C106.45,129.25 107.20,133.33 108.00,137.50 C108.80,141.67 109.67,146.08 110.50,150.00 C111.33,153.92 112.19,157.67 113.00,161.00 C113.81,164.33 114.54,167.08 115.37,169.97 C116.20,172.87 117.07,176.09 117.98,178.39 C118.90,180.69 119.85,182.52 120.85,183.78 C121.85,185.03 122.57,186.00 124.00,185.92 C125.43,185.84 127.88,184.64 129.41,183.30 C130.94,181.95 131.97,180.03 133.19,177.86 C134.41,175.68 135.55,173.16 136.72,170.24 C137.88,167.32 139.24,163.70 140.17,160.33 C141.10,156.96 141.52,153.72 142.29,150.00 C143.06,146.28 143.73,142.17 144.78,138.00 C145.83,133.83 147.54,129.33 148.61,125.00 C149.68,120.67 150.44,117.00 151.19,112.00 C151.94,107.00 152.29,99.50 153.11,95.00 C153.94,90.50 155.29,88.00 156.14,85.00 C156.98,82.00 157.31,80.33 158.20,77.00 C159.08,73.67 160.55,68.67 161.45,65.00 C162.35,61.33 162.89,57.67 163.59,55.00 C164.29,52.33 165.02,50.61 165.67,48.98 C166.31,47.35 166.73,46.27 167.45,45.24 C168.18,44.21 169.08,43.42 170.00,42.80 C170.92,42.18 172.00,41.70 173.00,41.50 C174.00,41.30 175.08,41.35 176.00,41.60 C176.92,41.85 177.50,42.35 178.50,43.00 C179.50,43.65 180.83,44.62 182.00,45.50 C183.17,46.38 184.38,47.35 185.50,48.30 C186.62,49.25 187.58,50.08 188.75,51.20 C189.92,52.32 191.38,53.62 192.50,55.00 C193.62,56.38 194.72,58.20 195.50,59.50 C196.28,60.80 196.68,61.63 197.20,62.80 C197.72,63.97 198.13,65.05 198.60,66.50 C199.07,67.95 199.52,69.58 200.00,71.50 C200.48,73.42 200.78,74.92 201.50,78.00 C202.22,81.08 203.45,86.33 204.30,90.00 C205.15,93.67 205.88,96.33 206.60,100.00 C207.32,103.67 207.98,107.83 208.60,112.00 C209.22,116.17 209.85,120.33 210.30,125.00 C210.75,129.67 210.92,135.00 211.30,140.00 C211.68,145.00 212.20,150.33 212.60,155.00 C213.00,159.67 213.40,164.17 213.70,168.00 C214.00,171.83 214.28,176.34 214.40,178.00" stroke="#0a0ae0" stroke-width="1.0" fill="none"/><path d="M45.00,180.00 C45.10,176.67 45.35,166.67 45.60,160.00 C45.85,153.33 46.17,146.67 46.50,140.00 C46.83,133.33 47.22,126.00 47.60,120.00 C47.98,114.00 48.37,109.00 48.80,104.00 C49.23,99.00 49.40,94.17 50.20,90.00 C51.00,85.83 52.70,81.67 53.60,79.00 C54.50,76.33 55.03,75.33 55.60,74.00 C56.17,72.67 56.57,71.97 57.00,71.00 C57.43,70.03 57.83,69.07 58.20,68.20 C58.57,67.33 58.85,66.57 59.20,65.80 C59.55,65.03 59.90,64.32 60.30,63.60 C60.70,62.88 61.12,62.15 61.60,61.50 C62.08,60.85 62.63,60.27 63.20,59.70 C63.77,59.13 64.37,58.63 65.00,58.10 C65.63,57.57 66.25,57.13 67.00,56.50 C67.75,55.87 68.57,55.12 69.50,54.30 C70.43,53.48 71.58,52.48 72.60,51.60 C73.62,50.72 74.77,49.75 75.60,49.00 C76.43,48.25 76.93,47.73 77.60,47.10 C78.27,46.47 78.90,45.80 79.60,45.20 C80.30,44.60 81.07,43.93 81.80,43.50 C82.53,43.07 83.30,42.65 84.00,42.60 C84.70,42.55 85.50,42.80 86.00,43.20 C86.50,43.60 86.58,44.03 87.00,45.00 C87.42,45.97 88.03,47.50 88.50,49.00 C88.97,50.50 89.35,52.17 89.80,54.00 C90.25,55.83 90.67,57.83 91.20,60.00 C91.73,62.17 92.37,64.33 93.00,67.00 C93.63,69.67 94.25,72.17 95.00,76.00 C95.75,79.83 96.75,86.00 97.50,90.00 C98.25,94.00 98.78,96.33 99.50,100.00 C100.22,103.67 101.00,107.83 101.80,112.00 C102.60,116.17 103.43,120.75 104.30,125.00 C105.17,129.25 106.13,133.33 107.00,137.50 C107.87,141.67 108.58,146.08 109.50,150.00 C110.42,153.92 111.50,157.67 112.50,161.00 C113.50,164.33 114.45,167.17 115.50,170.00 C116.55,172.83 117.72,175.75 118.80,178.00 C119.88,180.25 120.97,182.33 122.00,183.50 C123.03,184.67 123.92,185.08 125.00,185.00 C126.08,184.92 127.33,184.33 128.50,183.00 C129.67,181.67 130.92,179.17 132.00,177.00 C133.08,174.83 133.92,172.83 135.00,170.00 C136.08,167.17 137.38,163.33 138.50,160.00 C139.62,156.67 140.62,153.67 141.70,150.00 C142.78,146.33 143.87,142.17 145.00,138.00 C146.13,133.83 147.47,129.33 148.50,125.00 C149.53,120.67 150.28,117.00 151.20,112.00 C152.12,107.00 152.95,100.33 154.00,95.00 C155.05,89.67 156.42,84.83 157.50,80.00 C158.58,75.17 159.50,70.00 160.50,66.00 C161.50,62.00 162.58,58.58 163.50,56.00 C164.42,53.42 165.08,51.92 166.00,50.50 C166.92,49.08 168.00,48.17 169.00,47.50 C170.00,46.83 171.00,46.50 172.00,46.50 C173.00,46.50 173.67,46.25 175.00,47.50 C176.33,48.75 178.33,52.17 180.00,54.00 C181.67,55.83 183.33,56.95 185.00,58.50 C186.67,60.05 188.42,61.38 190.00,63.30 C191.58,65.22 193.12,67.22 194.50,70.00 C195.88,72.78 197.22,77.00 198.30,80.00 C199.38,83.00 200.05,85.17 201.00,88.00 C201.95,90.83 203.08,93.83 204.00,97.00 C204.92,100.17 205.75,103.67 206.50,107.00 C207.25,110.33 207.88,113.50 208.50,117.00 C209.12,120.50 209.75,124.17 210.20,128.00 C210.65,131.83 210.82,135.50 211.20,140.00 C211.58,144.50 212.10,150.33 212.50,155.00 C212.90,159.67 213.28,164.17 213.60,168.00 C213.92,171.83 214.27,176.33 214.40,178.00" stroke="#6868e0" stroke-width="0.8" fill="none"/><path d="M44.60,182.00 C44.65,180.00 44.78,174.00 44.90,170.00 C45.02,166.00 45.15,162.17 45.30,158.00 C45.45,153.83 45.60,149.67 45.80,145.00 C46.00,140.33 46.22,135.00 46.50,130.00 C46.78,125.00 47.12,120.00 47.50,115.00 C47.88,110.00 48.33,104.67 48.80,100.00 C49.27,95.33 49.77,90.83 50.30,87.00 C50.83,83.17 51.42,80.17 52.00,77.00 C52.58,73.83 53.17,70.48 53.80,68.00 C54.43,65.52 55.02,63.27 55.80,62.13 C56.58,61.00 57.50,62.00 58.50,61.19 C59.50,60.39 60.72,58.63 61.80,57.30 C62.88,55.97 64.00,54.47 65.00,53.20 C66.00,51.93 66.97,50.82 67.80,49.70 C68.63,48.58 69.13,47.47 70.00,46.50 C70.87,45.53 72.00,44.73 73.00,43.90 C74.00,43.07 75.00,42.27 76.00,41.50 C77.00,40.73 78.03,39.92 79.00,39.30 C79.97,38.68 80.88,38.47 81.80,37.80 C82.72,37.13 83.72,35.76 84.50,35.26 C85.28,34.76 85.98,34.42 86.50,34.81 C87.02,35.19 87.18,36.44 87.60,37.56 C88.02,38.68 88.53,40.18 89.00,41.50 C89.47,42.82 89.93,44.08 90.40,45.50 C90.87,46.92 91.40,48.42 91.80,50.00 C92.20,51.58 92.47,53.33 92.80,55.00 C93.13,56.67 93.35,58.00 93.80,60.00 C94.25,62.00 94.93,64.33 95.50,67.00 C96.07,69.67 96.58,72.67 97.20,76.00 C97.82,79.33 98.52,83.17 99.20,87.00 C99.88,90.83 100.58,94.83 101.30,99.00 C102.02,103.17 102.77,107.67 103.50,112.00 C104.23,116.33 104.95,120.75 105.70,125.00 C106.45,129.25 107.20,133.33 108.00,137.50 C108.80,141.67 109.67,146.08 110.50,150.00 C111.33,153.92 112.20,157.67 113.00,161.00 C113.80,164.33 114.50,167.08 115.30,170.00 C116.10,172.92 116.92,176.17 117.80,178.50 C118.68,180.83 119.60,182.72 120.60,184.00 C121.60,185.28 122.32,186.28 123.80,186.20 C125.28,186.12 127.88,184.87 129.50,183.50 C131.12,182.13 132.22,180.17 133.50,178.00 C134.78,175.83 135.98,173.42 137.20,170.50 C138.42,167.58 139.83,163.92 140.80,160.50 C141.77,157.08 142.22,153.75 143.00,150.00 C143.78,146.25 144.45,142.17 145.50,138.00 C146.55,133.83 148.25,129.33 149.30,125.00 C150.35,120.67 151.10,117.00 151.80,112.00 C152.50,107.00 152.72,99.50 153.50,95.00 C154.28,90.50 155.67,88.00 156.50,85.00 C157.33,82.00 157.63,80.33 158.50,77.00 C159.37,73.67 160.82,68.65 161.70,65.00 C162.58,61.35 163.12,57.59 163.80,55.12 C164.48,52.65 165.18,51.50 165.80,50.19 C166.42,48.88 166.80,48.15 167.50,47.25 C168.20,46.35 169.08,45.43 170.00,44.80 C170.92,44.17 172.00,43.70 173.00,43.50 C174.00,43.30 175.08,43.35 176.00,43.60 C176.92,43.85 177.50,44.35 178.50,45.00 C179.50,45.65 180.83,46.62 182.00,47.50 C183.17,48.38 184.38,49.37 185.50,50.30 C186.62,51.23 187.58,52.30 188.75,53.09 C189.92,53.88 191.38,53.98 192.50,55.05 C193.62,56.12 194.72,58.21 195.50,59.50 C196.28,60.79 196.68,61.63 197.20,62.80 C197.72,63.97 198.13,65.05 198.60,66.50 C199.07,67.95 199.52,69.58 200.00,71.50 C200.48,73.42 200.78,74.92 201.50,78.00 C202.22,81.08 203.45,86.33 204.30,90.00 C205.15,93.67 205.88,96.33 206.60,100.00 C207.32,103.67 207.98,107.83 208.60,112.00 C209.22,116.17 209.85,120.33 210.30,125.00 C210.75,129.67 210.92,135.00 211.30,140.00 C211.68,145.00 212.20,150.33 212.60,155.00 C213.00,159.67 213.40,164.17 213.70,168.00 C214.00,171.83 214.28,176.33 214.40,178.00" stroke="#4040d8" stroke-width="0.7" fill="none"/><path d="M45.30,178.00 C45.35,175.83 45.50,169.67 45.60,165.00 C45.70,160.33 45.75,155.00 45.90,150.00 C46.05,145.00 46.27,140.00 46.50,135.00 C46.73,130.00 47.07,124.17 47.30,120.00 C47.53,115.83 47.58,113.33 47.90,110.00 C48.22,106.67 48.72,103.00 49.20,100.00 C49.68,97.00 50.23,94.67 50.80,92.00 C51.37,89.33 52.10,86.33 52.60,84.00 C53.10,81.67 53.47,79.67 53.80,78.00 C54.13,76.33 54.30,75.00 54.60,74.00 C54.90,73.00 55.28,72.67 55.60,72.00 C55.92,71.33 56.20,70.75 56.50,70.00 C56.80,69.25 57.12,68.33 57.40,67.50 C57.68,66.67 57.93,65.78 58.20,65.00 C58.47,64.22 58.70,63.55 59.00,62.80 C59.30,62.05 59.62,61.22 60.00,60.50 C60.38,59.78 60.83,59.12 61.30,58.50 C61.77,57.88 62.25,57.35 62.80,56.80 C63.35,56.25 63.97,55.73 64.60,55.20 C65.23,54.67 65.87,54.22 66.60,53.60 C67.33,52.98 68.10,52.30 69.00,51.50 C69.90,50.70 71.17,49.50 72.00,48.80 C72.83,48.10 73.33,47.87 74.00,47.30 C74.67,46.73 75.33,46.05 76.00,45.40 C76.67,44.75 77.33,44.08 78.00,43.40 C78.67,42.72 79.25,42.08 80.00,41.30 C80.75,40.52 81.58,39.58 82.50,38.70 C83.42,37.82 84.58,36.28 85.50,36.00 C86.42,35.72 87.12,36.37 88.00,37.00 C88.88,37.63 89.97,38.88 90.80,39.80 C91.63,40.72 92.30,41.58 93.00,42.50 C93.70,43.42 94.27,44.05 95.00,45.30 C95.73,46.55 96.70,48.38 97.40,50.00 C98.10,51.62 98.63,53.33 99.20,55.00 C99.77,56.67 100.18,57.50 100.80,60.00 C101.42,62.50 102.23,66.67 102.90,70.00 C103.57,73.33 104.23,76.67 104.80,80.00 C105.37,83.33 105.70,86.67 106.30,90.00 C106.90,93.33 107.67,96.50 108.40,100.00 C109.13,103.50 109.97,107.50 110.70,111.00 C111.43,114.50 112.15,117.83 112.80,121.00 C113.45,124.17 113.95,126.83 114.60,130.00 C115.25,133.17 115.93,136.67 116.70,140.00 C117.47,143.33 118.35,146.83 119.20,150.00 C120.05,153.17 120.98,156.22 121.80,159.00 C122.62,161.78 123.37,164.45 124.10,166.70 C124.83,168.95 125.55,170.70 126.20,172.50 C126.85,174.30 127.23,175.83 128.00,177.50 C128.77,179.17 129.77,181.22 130.80,182.50 C131.83,183.78 133.03,185.03 134.20,185.20 C135.37,185.37 136.75,184.37 137.80,183.50 C138.85,182.63 139.73,181.33 140.50,180.00 C141.27,178.67 141.78,177.42 142.40,175.50 C143.02,173.58 143.62,171.08 144.20,168.50 C144.78,165.92 145.22,163.08 145.90,160.00 C146.58,156.92 147.53,153.33 148.30,150.00 C149.07,146.67 149.85,143.17 150.50,140.00 C151.15,136.83 151.77,133.50 152.20,131.00 C152.63,128.50 152.53,128.50 153.10,125.00 C153.67,121.50 154.77,115.00 155.60,110.00 C156.43,105.00 157.37,99.17 158.10,95.00 C158.83,90.83 159.42,88.33 160.00,85.00 C160.58,81.67 160.97,78.33 161.60,75.00 C162.23,71.67 163.13,68.33 163.80,65.00 C164.47,61.67 165.02,57.75 165.60,55.00 C166.18,52.25 166.72,50.58 167.30,48.50 C167.88,46.42 168.60,44.25 169.10,42.50 C169.60,40.75 169.82,39.42 170.30,38.00 C170.78,36.58 171.43,35.20 172.00,34.00 C172.57,32.80 173.12,31.72 173.70,30.80 C174.28,29.88 174.87,29.08 175.50,28.50 C176.13,27.92 176.75,27.42 177.50,27.30 C178.25,27.18 179.03,27.35 180.00,27.80 C180.97,28.25 182.22,29.05 183.30,30.00 C184.38,30.95 185.47,32.33 186.50,33.50 C187.53,34.67 188.62,35.92 189.50,37.00 C190.38,38.08 190.95,38.73 191.80,40.00 C192.65,41.27 193.73,43.18 194.60,44.60 C195.47,46.02 196.27,47.05 197.00,48.50 C197.73,49.95 198.28,51.47 199.00,53.30 C199.72,55.13 200.58,57.30 201.30,59.50 C202.02,61.70 202.68,64.08 203.30,66.50 C203.92,68.92 204.50,71.75 205.00,74.00 C205.50,76.25 205.87,77.67 206.30,80.00 C206.73,82.33 207.18,85.50 207.60,88.00 C208.02,90.50 208.47,93.00 208.80,95.00 C209.13,97.00 209.30,97.50 209.60,100.00 C209.90,102.50 210.28,106.67 210.60,110.00 C210.92,113.33 211.18,116.50 211.50,120.00 C211.82,123.50 212.17,127.50 212.50,131.00 C212.83,134.50 213.23,137.83 213.50,141.00 C213.77,144.17 213.95,147.25 214.10,150.00 C214.25,152.75 214.35,156.25 214.40,157.50" stroke="#000" stroke-width="1.5" fill="none"/>
</g>
<rect x="234.6" y="9.1" width="96.6" height="219.7" fill="#fff" stroke="#111" stroke-width="1.1"/>
<line x1="243" y1="21.25" x2="281.5" y2="21.25" stroke="#6464c4" stroke-width="1.0"/><text x="286" y="25.15" fill="#2424c8">11 Feb</text><line x1="243" y1="33.55" x2="281.5" y2="33.55" stroke="#5a5ab8" stroke-width="1.0"/><text x="286" y="37.45" fill="#2424c8">14 Feb</text><line x1="243" y1="45.85" x2="281.5" y2="45.85" stroke="#7c7cd4" stroke-width="1.0"/><text x="286" y="49.75" fill="#2424c8">15 Feb</text><line x1="243" y1="58.15" x2="281.5" y2="58.15" stroke="#5252b0" stroke-width="1.2"/><text x="286" y="62.05" fill="#2424c8">16 Feb</text><line x1="243" y1="70.45" x2="281.5" y2="70.45" stroke="#8686e0" stroke-width="0.8"/><text x="286" y="74.35" fill="#2424c8">17 Feb</text><line x1="243" y1="82.75" x2="281.5" y2="82.75" stroke="#5a5aac" stroke-width="1.3"/><text x="286" y="86.65" fill="#2424c8">18 Feb</text><line x1="243" y1="95.05" x2="281.5" y2="95.05" stroke="#7a7ad0" stroke-width="1.0"/><text x="286" y="98.95" fill="#2424c8">22 Feb</text><line x1="243" y1="107.35" x2="281.5" y2="107.35" stroke="#5a5ac4" stroke-width="1.0"/><text x="286" y="111.25" fill="#2424c8">23 Feb</text><line x1="243" y1="119.65" x2="281.5" y2="119.65" stroke="#7070c4" stroke-width="1.0"/><text x="286" y="123.55" fill="#2424c8">24 Feb</text><line x1="243" y1="131.95" x2="281.5" y2="131.95" stroke="#7070c8" stroke-width="1.0"/><text x="286" y="135.85" fill="#2424c8">25 Feb</text><line x1="243" y1="144.25" x2="281.5" y2="144.25" stroke="#4e4ebc" stroke-width="1.2"/><text x="286" y="148.15" fill="#2424c8">28 Feb</text><line x1="243" y1="156.55" x2="281.5" y2="156.55" stroke="#a8a8dc" stroke-width="0.9"/><text x="286" y="160.45" fill="#2424c8">1 March</text><line x1="243" y1="168.85" x2="281.5" y2="168.85" stroke="#b0b0e4" stroke-width="0.9"/><text x="286" y="172.75" fill="#2424c8">2 March</text><line x1="243" y1="181.15" x2="281.5" y2="181.15" stroke="#8888cc" stroke-width="0.9"/><text x="286" y="185.05" fill="#2424c8">3 March</text><line x1="243" y1="193.45" x2="281.5" y2="193.45" stroke="#a4a4d4" stroke-width="0.9"/><text x="286" y="197.35" fill="#2424c8">4 March</text><line x1="243" y1="205.75" x2="281.5" y2="205.75" stroke="#000000" stroke-width="1.6"/><text x="286" y="209.65" fill="#000">10 March</text><line x1="243" y1="218.05" x2="281.5" y2="218.05" stroke="#c8c8dc" stroke-width="0.8"/><text x="286" y="221.95" fill="#2424c8">14 March</text>
</svg>
</body></html>
